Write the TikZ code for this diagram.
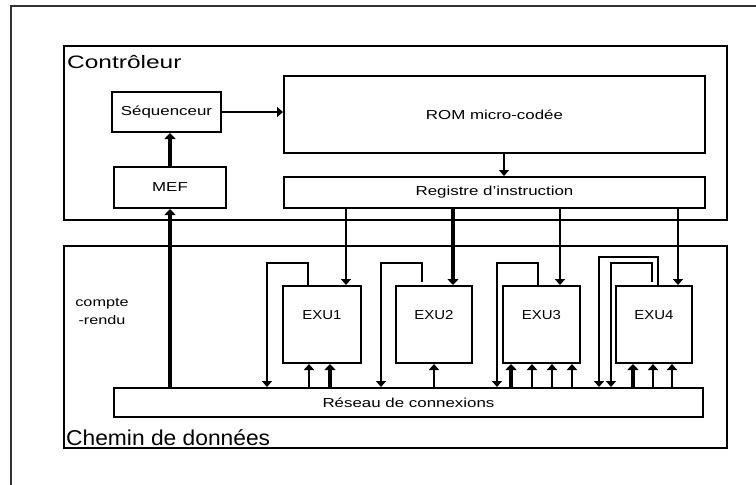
\documentclass[tikz,border=0pt]{standalone}
\usepackage{fontspec}
\usepackage{graphicx}
\setmainfont{Liberation Sans}
\usetikzlibrary{arrows.meta}
\newcommand\wlbl[2][1.3]{\scalebox{#1}[1]{#2}}
\begin{document}
\begin{tikzpicture}[x=1pt,y=-1pt,
  box/.style={draw, line width=2pt, inner sep=0pt, font=\fontsize{13}{15}\selectfont},
  frame/.style={draw, line width=2pt, inner sep=0pt},
  tarr/.style={line width=1.8pt, -{Triangle[width=10pt,length=6pt]}},
  karr/.style={line width=3.4pt, -{Triangle[width=11pt,length=6pt]}},
  small/.style={font=\fontsize{13}{15}\selectfont, inner sep=0pt}]
\useasboundingbox (0,0) rectangle (756,485);
\fill[white] (0,0) rectangle (756,485);
\draw[line width=2pt, black!80] (11,485) -- (11,6) -- (756,6);

% big frames
\node[frame, minimum width=663pt, minimum height=174pt] (ctrl) at (395.5,133) {};
\node[frame, minimum width=663pt, minimum height=202pt] (chem) at (395.5,347) {};
\node[anchor=base west, inner sep=0pt, font=\fontsize{18}{20}\selectfont] (ctrlt) at (67,68) {\wlbl[1.36]{Contrôleur}};
\node[anchor=base west, inner sep=0pt, font=\fontsize{21.5}{24}\selectfont] (chemt) at (66,445) {\wlbl[1.06]{Chemin de données}};

% controller blocks
\node[box, minimum width=109pt, minimum height=40pt] (seq) at (166.5,112) {\wlbl{Séquenceur}};
\node[box, minimum width=112pt, minimum height=41pt] (mef) at (170,187.5) {\wlbl{MEF}};
\node[box, minimum width=421pt, minimum height=77pt] (rom) at (494.5,114.5) {\wlbl{ROM micro-codée}};
\node[box, minimum width=421pt, minimum height=31pt] (reg) at (494.5,192.5) {\wlbl{Registre d'instruction}};

% datapath blocks
\node[box, minimum width=589pt, minimum height=29pt] (res) at (408.5,402.5) {\wlbl{Réseau de connexions}};
\node[box, minimum width=78pt, minimum height=77pt] (exu1) at (322,324.5) {};
\node[box, minimum width=76pt, minimum height=77pt] (exu2) at (434,324.5) {};
\node[box, minimum width=77pt, minimum height=77pt] (exu3) at (541.5,324.5) {};
\node[box, minimum width=76pt, minimum height=77pt] (exu4) at (654,324.5) {};
\node[small] (exu1t) at ([yshift=9pt]exu1.center) {\wlbl[1.15]{EXU1}};
\node[small] (exu2t) at ([yshift=9pt]exu2.center) {\wlbl[1.15]{EXU2}};
\node[small] (exu3t) at ([yshift=9pt]exu3.center) {\wlbl[1.15]{EXU3}};
\node[small] (exu4t) at ([yshift=9pt]exu4.center) {\wlbl[1.15]{EXU4}};
\node[small, align=center, font=\fontsize{12.5}{18}\selectfont] (cr) at (102,312) {\wlbl{compte}\\\wlbl{-rendu}};

% controller connections
\draw[tarr] (seq.east) -- (seq.east -| rom.west);
\draw[karr] (mef.north) -- (mef.north |- seq.south);
\draw[karr] (res.north -| mef.south) -- (mef.south);
\coordinate (r) at (504,0);
\draw[tarr] (rom.south -| r) -- (reg.north -| r);

% instruction register outputs
\coordinate (i1) at (346,0);
\coordinate (i2) at (453,0);
\coordinate (i3) at (560,0);
\coordinate (i4) at (678,0);
\draw[tarr] (reg.south -| i1) -- (exu1.north -| i1);
\draw[karr] (reg.south -| i2) -- (exu2.north -| i2);
\draw[tarr] (reg.south -| i3) -- (exu3.north -| i3);
\draw[tarr] (reg.south -| i4) -- (exu4.north -| i4);

% feedback paths to network
\coordinate (f1) at (267,263);
\coordinate (f2) at (381,263);
\coordinate (f3) at (497,263);
\coordinate (f4a) at (599,257);
\coordinate (f4b) at (611,263);
\draw[tarr] ([xshift=-14pt]exu1.north) |- (f1) -- (f1 |- res.north);
\draw[tarr] ([xshift=-12pt,yshift=3pt]exu2.north) |- (f2) -- (f2 |- res.north);
\draw[tarr] ([xshift=-3.5pt]exu3.north) |- (f3) -- (f3 |- res.north);
\draw[tarr] ([xshift=4pt]exu4.north) |- (f4a) -- (f4a |- res.north);
\draw[tarr] ([xshift=-2pt,yshift=3pt]exu4.north) |- (f4b) -- (f4b |- res.north);

% network inputs to units
\coordinate (b11) at (309,0);
\coordinate (b12) at (330,0);
\coordinate (b21) at (434,0);
\coordinate (b31) at (511,0);
\coordinate (b32) at (532,0);
\coordinate (b33) at (552,0);
\coordinate (b34) at (572,0);
\coordinate (b41) at (633,0);
\coordinate (b42) at (653,0);
\coordinate (b43) at (672,0);
\draw[tarr] (res.north -| b11) -- (exu1.south -| b11);
\draw[karr] (res.north -| b12) -- (exu1.south -| b12);
\draw[tarr] (res.north -| b21) -- (exu2.south -| b21);
\draw[karr] (res.north -| b31) -- (exu3.south -| b31);
\draw[tarr] (res.north -| b32) -- (exu3.south -| b32);
\draw[tarr] (res.north -| b33) -- (exu3.south -| b33);
\draw[tarr] (res.north -| b34) -- (exu3.south -| b34);
\draw[karr] (res.north -| b41) -- (exu4.south -| b41);
\draw[tarr] (res.north -| b42) -- (exu4.south -| b42);
\draw[tarr] (res.north -| b43) -- (exu4.south -| b43);
\end{tikzpicture}
\end{document}
